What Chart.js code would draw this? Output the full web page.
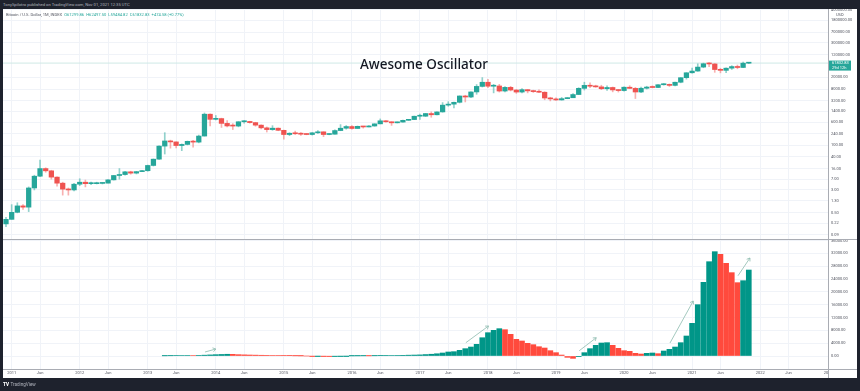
<!DOCTYPE html>
<html>
<head>
<meta charset="utf-8">
<title>Awesome Oscillator</title>
<script src="https://cdn.jsdelivr.net/npm/chart.js@4"></script>
<style>
  html, body { margin: 0; padding: 0; background: #1e222d; overflow: hidden; }
  #page { position: relative; width: 860px; height: 391px; background: #1e222d; font-family: Roboto, sans-serif; }
  #panel { position: absolute; left: 3px; top: 9px; width: 854px; height: 369px; background: #fff; }
  canvas { position: absolute; left: 3px; }
  #priceChart { top: 9px; }
  #aoChart { top: 240px; }
  .rule { position: absolute; background: #a9acb3; }
  .txt { position: absolute; white-space: nowrap; }
  #published { left: 3px; top: 2px; font-size: 4.15px; line-height: 6px; color: #b2b5be; }
  #legend { left: 6px; top: 11.5px; font-size: 4.1px; line-height: 6px; color: #50535e; }
  #legend b { font-weight: 400; color: #26a69a; }
  #heading { left: 360px; top: 54px; font: 500 13.5px/20px "Noto Sans", sans-serif; color: #131722; }
  #logo { left: 3px; top: 382px; font-size: 4.6px; line-height: 6px; color: #b2b5be; }
  #logo b { color: #fff; font-weight: 900; margin-right: 1.5px; }
  #unit { left: 836px; top: 11.5px; font-size: 4px; line-height: 6px; color: #50535e; }
</style>
</head>
<body>
<div id="page">
  <div id="panel"></div>
  <canvas id="priceChart" width="854" height="230"></canvas>
  <canvas id="aoChart" width="854" height="138"></canvas>
  <div class="rule" style="left:3px;top:238.5px;width:854px;height:1px"></div>
  <div class="rule" style="left:3px;top:369px;width:854px;height:1px"></div>
  <div style="position:absolute;left:829px;top:370px;width:28px;height:8px;background:#fff"></div>
  <div class="rule" style="left:828px;top:9px;width:1px;height:369px"></div>
  <div class="txt" id="published">TonySpilotro published on TradingView.com, Nov 01, 2021 12:35 UTC</div>
  <div class="txt" id="legend">Bitcoin / U.S. Dollar, 1M, INDEX &nbsp;<b>O61299.86 &nbsp;H62497.50 &nbsp;L59484.82 &nbsp;C61832.83 &nbsp;+474.58 (+0.77%)</b></div>
  <div class="txt" id="unit">USD</div>
  <div class="txt" id="heading">Awesome Oscillator</div>
  <div class="txt" id="logo"><b>TV</b>TradingView</div>
</div>
<script>
// monthly candles, first one is Dec 2010, last one Nov 2021
const opens = [
  0.21, 0.3,
  0.52, 0.86, 0.78, 3.5, 8.8, 16, 13.4, 8.2, 5.1, 3.2, 3, 4.7,
  5.5, 4.9, 4.9, 5, 5.1, 6.6, 9.3, 10, 12.4, 11.2, 12.6, 13.5,
  20.4, 33.4, 93, 139, 129, 97, 106, 135, 127, 204, 1130, 755,
  802, 550, 450, 446, 625, 640, 585, 480, 388, 338, 378, 320,
  230, 254, 244, 236, 230, 263, 284, 230, 236, 314, 377, 430,
  369, 437, 416, 448, 530, 673, 624, 575, 609, 700, 742, 963,
  965, 1190, 1080, 1350, 2300, 2480, 2870, 4700, 4340, 6450, 9950, 13800,
  10100, 10300, 6930, 9240, 7500, 6400, 7730, 7010, 6620, 6310, 4020, 3740,
  3450, 3820, 4100, 5270, 8550, 10800, 10100, 9600, 8300, 9150, 7560, 7190,
  9350, 8530, 6420, 8620, 9450, 9140, 11350, 11650, 10780, 13800, 19700, 28950,
  33100, 45200, 58800, 57700, 37300, 35000, 41500, 47100, 43800, 61299.86,
];

const closes = [
  0.3,
  0.52, 0.86, 0.78, 3.5, 8.8, 16, 13.4, 8.2, 5.1, 3.2, 3, 4.7,
  5.5, 4.9, 4.9, 5, 5.1, 6.6, 9.3, 10, 12.4, 11.2, 12.6, 13.5,
  20.4, 33.4, 93, 139, 129, 97, 106, 135, 127, 204, 1130, 755,
  802, 550, 450, 446, 625, 640, 585, 480, 388, 338, 378, 320,
  230, 254, 244, 236, 230, 263, 284, 230, 236, 314, 377, 430,
  369, 437, 416, 448, 530, 673, 624, 575, 609, 700, 742, 963,
  965, 1190, 1080, 1350, 2300, 2480, 2870, 4700, 4340, 6450, 9950, 13800,
  10100, 10300, 6930, 9240, 7500, 6400, 7730, 7010, 6620, 6310, 4020, 3740,
  3450, 3820, 4100, 5270, 8550, 10800, 10100, 9600, 8300, 9150, 7560, 7190,
  9350, 8530, 6420, 8620, 9450, 9140, 11350, 11650, 10780, 13800, 19700, 28950,
  33100, 45200, 58800, 57700, 37300, 35000, 41500, 47100, 43800, 61350, 61832.83,
];

const highs = [
  0.35,
  0.95, 1.1, 0.95, 3.8, 9.5, 31, 17, 14, 8.4, 5.5, 3.5, 5,
  7.2, 6.5, 5.5, 5.5, 5.2, 6.7, 9.4, 16, 12.8, 13, 12.8, 13.8,
  21, 34, 95, 266, 148, 130, 110, 138, 147, 220, 1240, 1160,
  1020, 830, 680, 540, 630, 680, 650, 600, 490, 415, 460, 385,
  325, 265, 300, 266, 248, 268, 315, 285, 245, 335, 500, 465,
  462, 448, 425, 467, 535, 780, 680, 625, 612, 715, 755, 975,
  1130, 1210, 1350, 1355, 2800, 3000, 2920, 4760, 4980, 6470, 11500, 19800,
  17200, 11700, 11700, 9800, 10000, 7780, 8450, 7750, 7410, 7600, 6550, 4260,
  4070, 4200, 4150, 5640, 9000, 13800, 13200, 10950, 10900, 10370, 9500, 7750,
  9580, 10500, 9190, 9470, 10070, 10380, 11400, 12470, 12060, 14100, 19850, 29300,
  41950, 58350, 61800, 64850, 59500, 41300, 42600, 50500, 53000, 67000, 62497.5,
];

const lows = [
  0.17,
  0.3, 0.5, 0.65, 0.55, 3, 8.5, 12, 7, 4, 2, 2, 2.8,
  4.2, 3.8, 4.5, 4.8, 4.8, 5.2, 6.5, 7, 9.6, 10.3, 10.5, 12.6,
  13, 19.5, 33, 50, 79, 81, 65, 102, 85, 120, 204, 455,
  720, 400, 420, 340, 420, 560, 560, 440, 360, 280, 320, 310,
  160, 210, 230, 215, 225, 220, 250, 195, 225, 235, 310, 350,
  350, 370, 380, 415, 440, 530, 610, 470, 570, 605, 698, 740,
  750, 940, 890, 1060, 1320, 2100, 1840, 2720, 2950, 4150, 5380, 9500,
  9000, 6000, 6400, 6500, 7000, 5780, 6000, 6000, 6200, 6150, 3500, 3200,
  3350, 3400, 3800, 4100, 5250, 7500, 9100, 9300, 7700, 7300, 6500, 6400,
  6850, 8450, 3850, 6150, 8100, 8900, 9000, 10980, 9880, 10400, 13200, 17600,
  28100, 32400, 43000, 47000, 30000, 28800, 29300, 37500, 39600, 43300, 59484.82,
];

// awesome oscillator, null until the series begins (Apr 2013)
const aoValues = [
  null,
  null, null, null, null, null, null, null, null, null, null, null, null,
  null, null, null, null, null, null, null, null, null, null, null, null,
  null, null, null, 60, 90, 130, 150, 170, 150, 190, 260, 340,
  420, 480, 540, 520, 420, 360, 310, 270, 230, 200, 170, 140,
  120, 100, 60, 30, 0, -30, -20, -40, -60, -50, -30, -15,
  30, 45, 60, 50, 80, 100, 120, 150, 180, 220, 260, 300,
  350, 450, 550, 700, 935, 1250, 1350, 1770, 2290, 2800, 3640, 5700,
  7270, 8000, 8520, 8200, 6750, 5200, 4680, 3950, 3530, 2900, 2490, 1660,
  1040, 300, -415, -730, -100, 1040, 2290, 3320, 4050, 4155, 3320, 2390,
  1660, 1455, 830, 620, 830, 935, 730, 1560, 2080, 2800, 4155, 6235,
  10180, 16000, 22960, 29400, 32520, 31690, 28890, 25980, 22860, 23480, 26800,
];

const priceTicks = [0.09, 0.22, 0.5, 1.3, 3, 7, 16, 40, 100, 240, 600, 1400, 3200, 8000, 20000, 120000, 300000, 700000, 1800000, 4000000];
const aoTicks = [0, 4000, 8000, 12000, 16000, 20000, 24000, 28000, 32000, 36000];

// time axis, month index -> label
const timeIndex = [1, 6, 13, 18, 25, 30, 37, 42, 49, 54, 61, 66, 73, 78, 85, 90, 97, 102, 109, 114, 121, 126, 133, 138, 145];
const timeLabels = ["2011", "Jun", "2012", "Jun", "2013", "Jun", "2014", "Jun", "2015", "Jun", "2016", "Jun", "2017", "Jun", "2018", "Jun", "2019", "Jun", "2020", "Jun", "2021", "Jun", "2022", "Jun", "2023"];

// hand drawn arrows of the lower pane: [month, value, month, value]
const arrows = [
  [35.1, 1250, 37, 2180],
  [81.1, 4150, 85.1, 9350],
  [101.1, 1650, 104.1, 5700],
  [117.1, 4050, 121.2, 17150],
  [129.1, 25030, 131.2, 30550],
];

const GREEN = "#26a69a";
const RED = "#ef5350";
const GRID = "#f0f3f8";
const TICK = "#50535e";

const xMin = -0.53;
const xMax = 144.97;

function xScale(showLabels) {
  return {
    type: "linear",
    offset: false,
    min: xMin,
    max: xMax,
    grid: { color: GRID, lineWidth: 1, drawTicks: false, offset: false },
    border: { display: false },
    afterBuildTicks: (s) => { s.ticks = timeIndex.map((v) => ({ value: v })); },
    afterFit: (s) => {
      s.height = showLabels ? 9 : 0;
      s.paddingLeft = 0;
      s.paddingRight = 0;
    },
    ticks: {
      display: showLabels,
      autoSkip: false,
      maxRotation: 0,
      padding: 2,
      color: TICK,
      font: { family: "Roboto", size: 4 },
      callback: (v, i) => timeLabels[i],
    },
  };
}

function yTicks() {
  return {
    autoSkip: false,
    padding: 3,
    color: TICK,
    font: { family: "Roboto", size: 4 },
    callback: (v) => Number(v).toFixed(2),
  };
}

// axis keeps a fixed width and does not push the plot area in
function fitY(s) {
  s.width = 29;
  s.paddingTop = 0;
  s.paddingBottom = 0;
}

// price tag on the right axis
const priceTag = {
  id: "priceTag",
  afterDraw(chart) {
    const { ctx, chartArea, scales } = chart;
    const y = scales.y.getPixelForValue(closes[closes.length - 1]);
    ctx.save();
    ctx.fillStyle = GREEN;
    ctx.fillRect(chartArea.right, y - 2.5, 23, 10);
    ctx.fillStyle = "#fff";
    ctx.font = "4px Roboto";
    ctx.textBaseline = "middle";
    ctx.fillText("61832.83", chartArea.right + 4, y);
    ctx.fillText("29d 12h", chartArea.right + 4, y + 5);
    ctx.restore();
  },
};

const arrowLines = {
  id: "arrowLines",
  afterDatasetsDraw(chart) {
    const { ctx, scales } = chart;
    ctx.save();
    ctx.strokeStyle = "#8dbbaf";
    ctx.lineWidth = 0.8;
    arrows.forEach((a) => {
      const x1 = scales.x.getPixelForValue(a[0]);
      const y1 = scales.y.getPixelForValue(a[1]);
      const x2 = scales.x.getPixelForValue(a[2]);
      const y2 = scales.y.getPixelForValue(a[3]);
      const ang = Math.atan2(y2 - y1, x2 - x1);
      ctx.beginPath();
      ctx.moveTo(x1, y1);
      ctx.lineTo(x2, y2);
      ctx.moveTo(x2 - 3.5 * Math.cos(ang - 0.6), y2 - 3.5 * Math.sin(ang - 0.6));
      ctx.lineTo(x2, y2);
      ctx.lineTo(x2 - 3.5 * Math.cos(ang + 0.6), y2 - 3.5 * Math.sin(ang + 0.6));
      ctx.stroke();
    });
    ctx.restore();
  },
};

const candleColors = closes.map((c, i) => (c >= opens[i] ? GREEN : RED));
const wickColors = closes.map((c, i) => (c >= opens[i] ? "rgba(38,166,154,0.5)" : "rgba(239,83,80,0.45)"));

new Chart(document.getElementById("priceChart"), {
  type: "bar",
  data: {
    datasets: [
      {
        data: closes.map((c, i) => ({ x: i, y: [lows[i], highs[i]] })),
        backgroundColor: wickColors,
        barThickness: 1,
        grouped: false,
        order: 3,
      },
      {
        data: closes.map((c, i) => ({ x: i, y: [opens[i], c] })),
        backgroundColor: candleColors,
        barThickness: 4.6,
        minBarLength: 1,
        grouped: false,
        order: 2,
      },
      {
        type: "line",
        data: [
          { x: xMin, y: closes[closes.length - 1] },
          { x: xMax, y: closes[closes.length - 1] },
        ],
        borderColor: "#cfe9e6",
        borderWidth: 1,
        pointRadius: 0,
        order: 4,
      },
    ],
  },
  options: {
    responsive: false,
    animation: false,
    events: [],
    layout: { padding: 0 },
    plugins: { legend: { display: false }, tooltip: { enabled: false } },
    scales: {
      x: xScale(false),
      y: {
        type: "logarithmic",
        position: "right",
        min: 0.0644,
        max: 4270000,
        grid: { color: GRID, lineWidth: 1, drawTicks: false },
        border: { display: false },
        afterFit: fitY,
        afterBuildTicks: (s) => { s.ticks = priceTicks.map((v) => ({ value: v })); },
        ticks: yTicks(),
      },
    },
  },
  plugins: [priceTag],
});

const aoColors = aoValues.map((v, i) => (i > 0 && v < aoValues[i - 1] ? "#ff4a3d" : "#009688"));

new Chart(document.getElementById("aoChart"), {
  type: "bar",
  data: {
    datasets: [
      {
        data: aoValues.map((v, i) => ({ x: i, y: v })),
        backgroundColor: aoColors,
        barThickness: 5,
      },
    ],
  },
  options: {
    responsive: false,
    animation: false,
    events: [],
    layout: { padding: 0 },
    plugins: { legend: { display: false }, tooltip: { enabled: false } },
    scales: {
      x: xScale(true),
      y: {
        position: "right",
        min: -4050,
        max: 36160,
        grid: { color: GRID, lineWidth: 1, drawTicks: false },
        border: { display: false },
        afterFit: fitY,
        afterBuildTicks: (s) => { s.ticks = aoTicks.map((v) => ({ value: v })); },
        ticks: yTicks(),
      },
    },
  },
  plugins: [arrowLines],
});
</script>
</body>
</html>
